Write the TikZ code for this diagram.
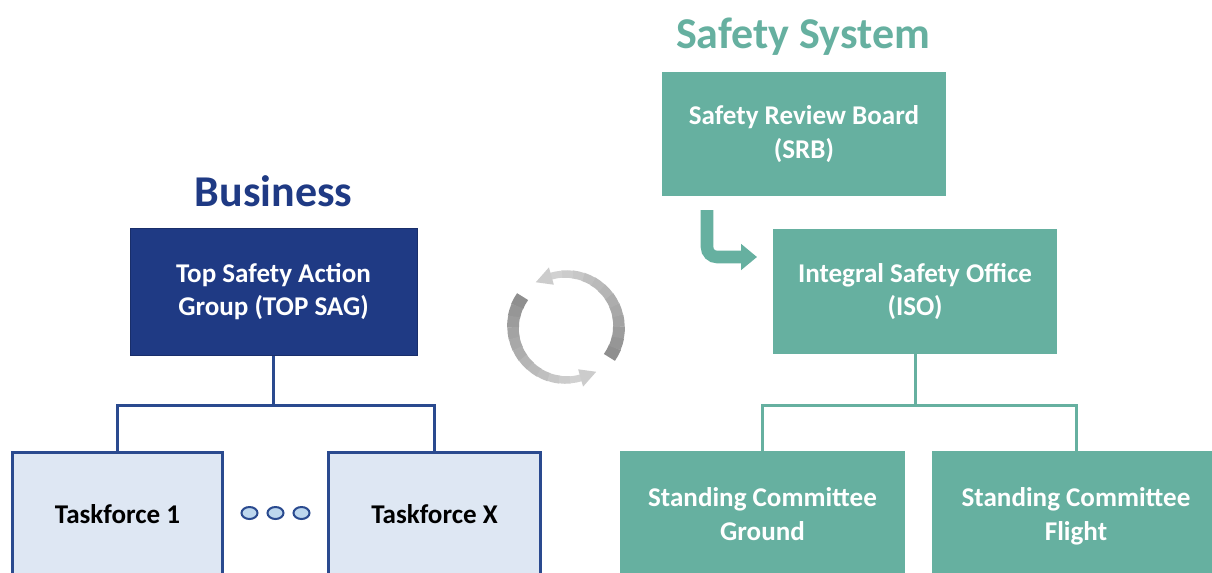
\documentclass[tikz,border=0pt]{standalone}
\usepackage{fontspec}
\setmainfont{Carlito}
\usetikzlibrary{arrows.meta,shapes.geometric}
\definecolor{teal1}{HTML}{66B0A0}
\definecolor{navy}{HTML}{1F3A84}
\definecolor{navyline}{HTML}{2A4A8F}
\definecolor{lblue}{HTML}{DEE7F3}
\definecolor{dotblue}{HTML}{BDD7EE}
\begin{document}
\begin{tikzpicture}[x=0.75pt,y=-0.75pt,
  font=\bfseries\fontsize{20.3}{25}\selectfont,
  tealbox/.style={rectangle, fill=teal1, draw=none, text=white, align=center, inner sep=0pt},
  navybox/.style={rectangle, fill=navy, draw=navy!80!black, line width=0.75pt, text=white, align=center, inner sep=0pt},
  tfbox/.style={rectangle, fill=lblue, draw=navyline, line width=2.25pt, text=black, align=center, inner sep=0pt, minimum height=93pt},
  tline/.style={draw=teal1, line width=2.25pt},
  nline/.style={draw=navyline, line width=2.25pt},
  dotnode/.style={ellipse, fill=dotblue, draw=navyline, line width=1.5pt, minimum width=12pt, minimum height=9pt, inner sep=0pt},
  ttl/.style={anchor=base, font=\bfseries\fontsize{33}{38}\selectfont}
]
\useasboundingbox (0,0) rectangle (1212,572);
\fill[white] (0,0) rectangle (1212,572);

% titles
\node[ttl, text=navy] (tbiz) at (273.5,206.5) {Business};
\node[ttl, text=teal1] (tsafe) at (803,48) {Safety System};

% left side
\node[navybox, minimum width=215.25pt, minimum height=95.25pt] (tsag) at (273.5,291.5) {Top Safety Action\\Group (TOP SAG)};
\node[tfbox, minimum width=157.5pt] (tf1) at (117.5,514) {Taskforce 1};
\node[tfbox, minimum width=159pt] (tfx) at (434.5,514) {Taskforce X};
\coordinate (lhub) at (273.5,405);
\draw[nline] (tsag.south) -- (lhub);
\draw[nline] (tf1.north) |- (lhub) -| (tfx.north);
\node[dotnode] (d1) at (249.5,513) {};
\node[dotnode] (d2) at (275.5,513) {};
\node[dotnode] (d3) at (301.5,513) {};

% right side
\node[tealbox, minimum width=213pt, minimum height=93pt] (srb) at (804,134) {Safety Review Board\\(SRB)};
\node[tealbox, minimum width=213pt, minimum height=93.75pt] (iso) at (915,291.5) {Integral Safety Office\\(ISO)};
\node[tealbox, minimum width=213.75pt, minimum height=94.5pt] (ground) at (762.5,514) {Standing Committee\\Ground};
\node[tealbox, minimum width=216pt, minimum height=94.5pt] (flight) at (1076,514) {Standing Committee\\Fli\smash{g}ht};
\coordinate (rhub) at (915,405);
\draw[tline] (iso.south) -- (rhub);
\draw[tline] (ground.north) |- (rhub) -| (flight.north);

% bent arrow SRB -> ISO
\coordinate (bs) at (707,210);
\coordinate (be) at (757,257);
\draw[teal1, line width=9.4pt, rounded corners=7.5pt, -{Triangle[length=12pt,width=19pt]}] (bs) |- (be);

% cycle arrows
\foreach \off in {0,180} {
  \foreach \i in {0,...,11} {
    \pgfmathsetmacro{\aa}{\off-35+\i*141/12}
    \pgfmathsetmacro{\ab}{\aa+141/12+0.6}
    \pgfmathsetmacro{\w}{(13-6*\i/11)*0.75}
    \pgfmathtruncatemacro{\c}{44-26*\i/11}
    \draw[line width=\w pt, draw=black!\c] ({566+53*cos(\aa)},{327-53*sin(\aa)}) arc[start angle=-\aa, end angle=-\ab, radius=53];
  }
  \fill[black!20] ({566+62*cos(\off+106)},{327-62*sin(\off+106)}) -- ({566+44*cos(\off+106)},{327-44*sin(\off+106)}) -- ({566+54*cos(\off+124)},{327-54*sin(\off+124)}) -- cycle;
}
\end{tikzpicture}
\end{document}
